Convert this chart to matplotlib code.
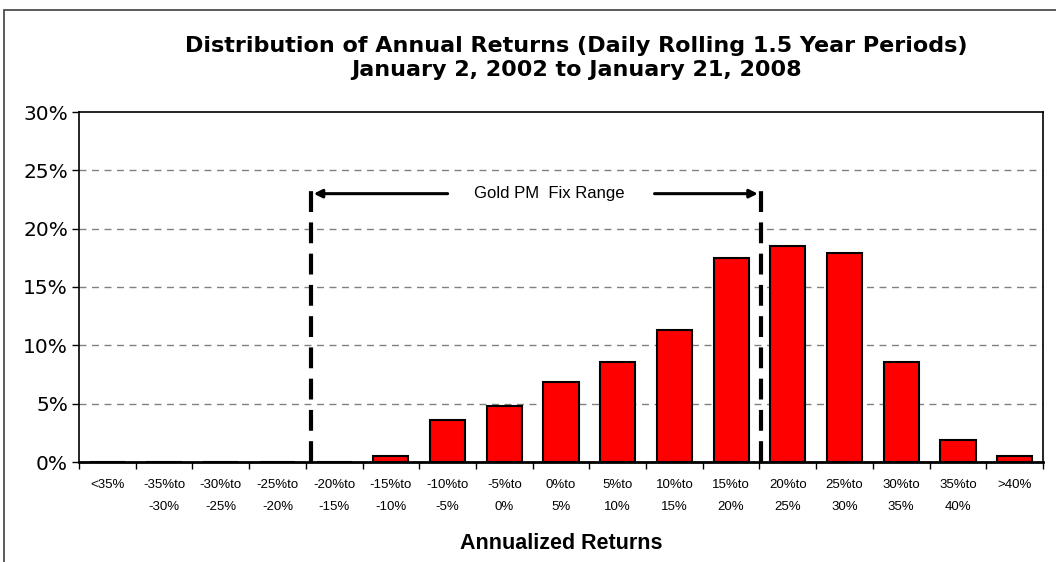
import numpy as np
import matplotlib.pyplot as plt
from matplotlib.patches import Rectangle

# return buckets and share of rolling periods (%)
labels = ['<35%', '-35%to\n-30%', '-30%to\n-25%', '-25%to\n-20%', '-20%to\n-15%',
          '-15%to\n-10%', '-10%to\n-5%', '-5%to\n0%', '0%to\n5%', '5%to\n10%',
          '10%to\n15%', '15%to\n20%', '20%to\n25%', '25%to\n30%', '30%to\n35%',
          '35%to\n40%', '>40%']
share = [0, 0, 0, 0, 0, 0.5, 3.6, 4.8, 6.9, 8.6, 11.3, 17.5, 18.5, 17.9, 8.6, 1.9, 0.5]
yticks = [0, 5, 10, 15, 20, 25, 30]

# gold PM fix range, in bucket positions
range_left = 3.59
range_right = 11.52
range_top = 23.0

fig = plt.figure(figsize=(10.56, 5.62), dpi=100)
ax = fig.add_axes([79/1056, 100/562, (1043-79)/1056, 350/562])

x = np.arange(len(share))
ax.bar(x, share, width=0.62, color='#ff0000', edgecolor='black', linewidth=1.5, zorder=3)

ax.set_xlim(-0.5, len(share) - 0.5)
ax.set_ylim(0, 30)
ax.set_yticks(yticks)
ax.set_yticklabels([f'{v}%' for v in yticks], fontsize=14.5, family='DejaVu Sans')
ax.set_xticks(x)
ax.set_xticklabels(labels, fontsize=9.5, family='Liberation Sans', linespacing=2.2)
ax.set_xticks(np.arange(-0.5, len(share), 1), minor=True)
ax.tick_params(axis='x', which='major', length=0, pad=12)
ax.tick_params(axis='x', which='minor', length=5, width=1)
ax.tick_params(axis='y', length=5, width=1, pad=3)

for y in yticks[1:-1]:
    ax.axhline(y, color='#808080', linestyle=(0, (5, 4)), linewidth=1, zorder=1)

for s in ax.spines.values():
    s.set_linewidth(1.2)
ax.spines['bottom'].set_linewidth(2)

# range markers
for xv in (range_left, range_right):
    ax.plot([xv, xv], [0, range_top + 0.3], color='black', linewidth=3,
            linestyle=(0, (5, 2.5)), zorder=4, solid_capstyle='butt')
ax.annotate('', xy=(range_left, range_top), xytext=(6.05, range_top),
            arrowprops=dict(arrowstyle='-|>', color='black', lw=2.2, mutation_scale=12))
ax.annotate('', xy=(range_right, range_top), xytext=(9.6, range_top),
            arrowprops=dict(arrowstyle='-|>', color='black', lw=2.2, mutation_scale=12))
ax.text(7.8, range_top, 'Gold PM  Fix Range', ha='center', va='center',
        fontsize=12, family='Liberation Sans')

ax.set_xlabel('Annualized Returns', fontsize=15.5, fontweight='bold',
              family='Liberation Sans', labelpad=14)

fig.text(576/1056, 1 - 58/562,
         'Distribution of Annual Returns (Daily Rolling 1.5 Year Periods)\nJanuary 2, 2002 to January 21, 2008',
         ha='center', va='center', fontsize=16, fontweight='bold', linespacing=1.2)

# outer frame
fig.patches.append(Rectangle((4/1056, -0.1), 1.2, 1 - 10/562 + 0.1, transform=fig.transFigure,
                             fill=False, edgecolor='#404040', linewidth=1.2))

fig.savefig('out.png', dpi=100)
